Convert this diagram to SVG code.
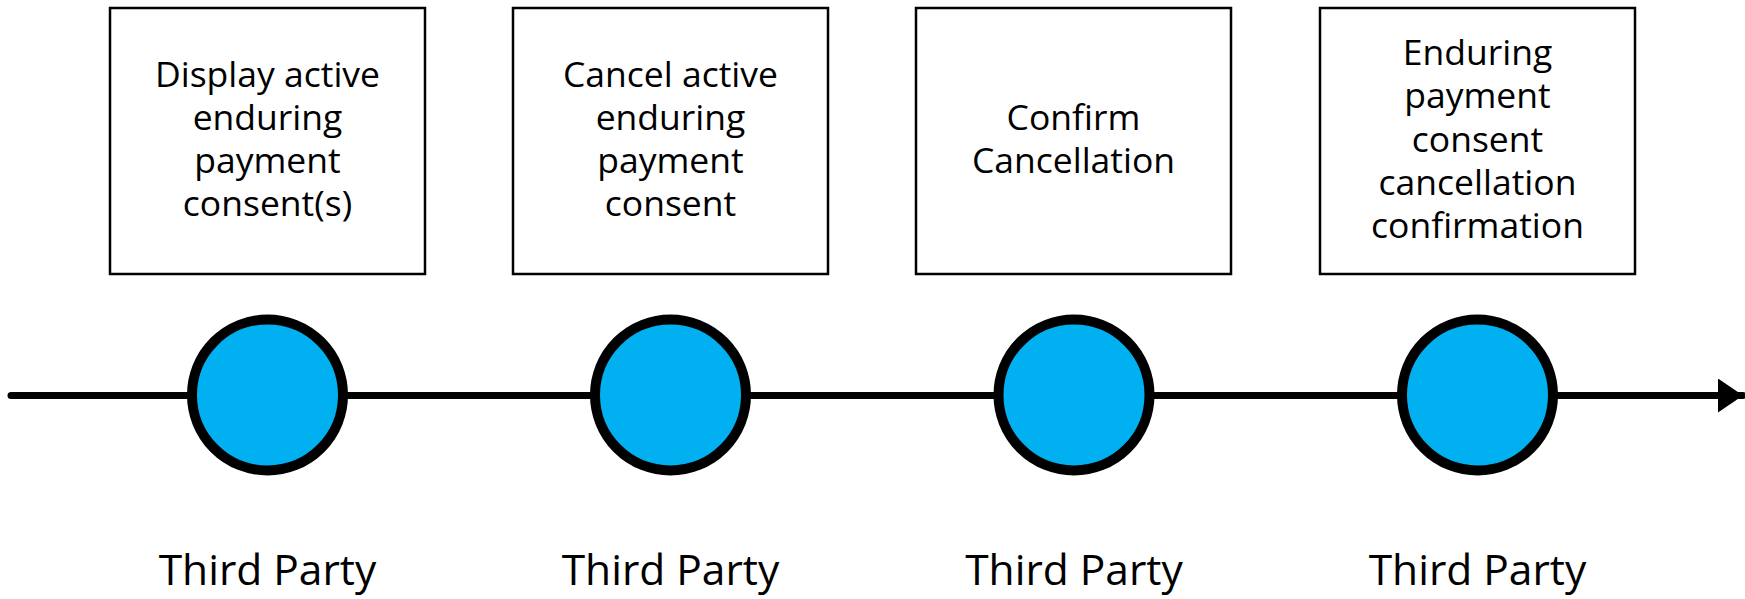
<svg xmlns="http://www.w3.org/2000/svg" width="1745" height="599" viewBox="0 0 1745 599">
<style>
.box{fill:#fff;stroke:#000;stroke-width:2.5}
.t{font-family:"Open Sans","Noto Sans",sans-serif;font-size:35.5px;fill:#000;text-anchor:middle}
.lbl{font-family:"Open Sans","Noto Sans",sans-serif;font-size:42.5px;fill:#000;text-anchor:middle}
.dot{fill:#00B0F0;stroke:#000;stroke-width:10}
</style>
<defs>
<marker id="ah" markerUnits="userSpaceOnUse" markerWidth="26" markerHeight="36" refX="25" refY="17" orient="auto">
<path d="M0,0 L25,17 L0,34 Z" fill="#000"/>
</marker>
</defs>
<g id="connectors">
<line x1="11" y1="395.5" x2="1743" y2="395.5" stroke="#000" stroke-width="7" stroke-linecap="round" marker-end="url(#ah)"/>
</g>
<g id="step1">
<rect class="box" x="110" y="8" width="315" height="266"/>
<text class="t"><tspan x="267.5" y="87">Display active</tspan><tspan x="267.5" y="130">enduring</tspan><tspan x="267.5" y="173">payment</tspan><tspan x="267.5" y="216">consent(s)</tspan></text>
<circle class="dot" cx="267.5" cy="395" r="75.5"/>
<text class="lbl" x="267.5" y="585">Third Party</text>
</g>
<g id="step2">
<rect class="box" x="513" y="8" width="315" height="266"/>
<text class="t"><tspan x="670.5" y="87">Cancel active</tspan><tspan x="670.5" y="130">enduring</tspan><tspan x="670.5" y="173">payment</tspan><tspan x="670.5" y="216">consent</tspan></text>
<circle class="dot" cx="670.5" cy="395" r="75.5"/>
<text class="lbl" x="670.5" y="585">Third Party</text>
</g>
<g id="step3">
<rect class="box" x="916" y="8" width="315" height="266"/>
<text class="t"><tspan x="1073.5" y="130">Confirm</tspan><tspan x="1073.5" y="173">Cancellation</tspan></text>
<circle class="dot" cx="1074" cy="395" r="75.5"/>
<text class="lbl" x="1074" y="585">Third Party</text>
</g>
<g id="step4">
<rect class="box" x="1320" y="8" width="315" height="266"/>
<text class="t"><tspan x="1477.5" y="65">Enduring</tspan><tspan x="1477.5" y="108">payment</tspan><tspan x="1477.5" y="152">consent</tspan><tspan x="1477.5" y="195">cancellation</tspan><tspan x="1477.5" y="238">confirmation</tspan></text>
<circle class="dot" cx="1477.5" cy="395" r="75.5"/>
<text class="lbl" x="1477.5" y="585">Third Party</text>
</g>
</svg>
